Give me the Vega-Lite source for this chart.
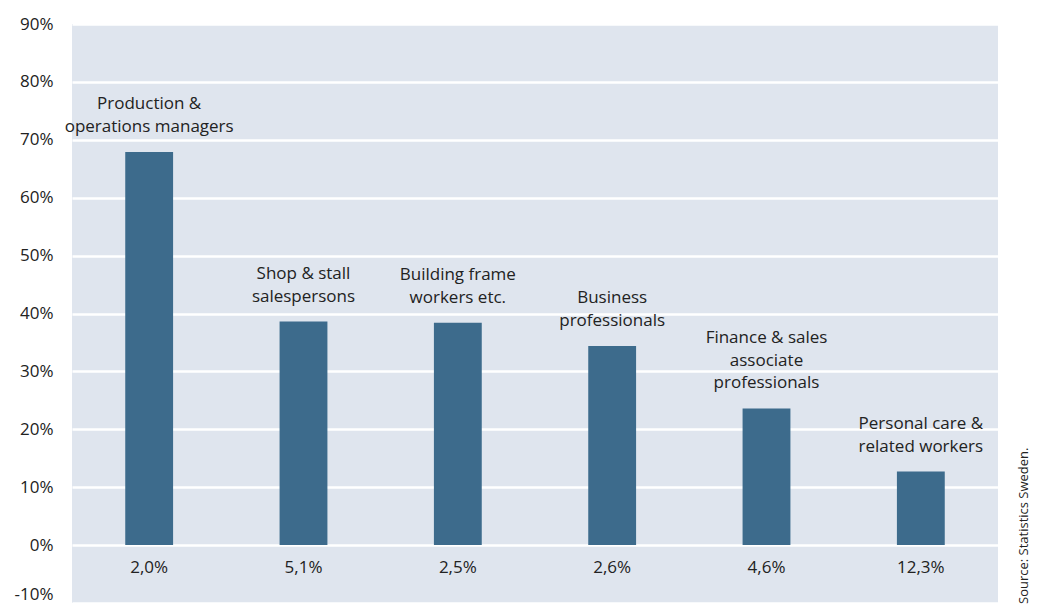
{
  "$schema": "https://vega.github.io/schema/vega-lite/v6.json",
  "autosize": "none",
  "width": 926,
  "height": 579,
  "padding": {"left": 72, "top": 24, "right": 40, "bottom": 5},
  "background": "white",
  "title": {
    "text": "Source: Statistics Sweden.",
    "orient": "right",
    "angle": -90,
    "anchor": "end",
    "align": "left",
    "frame": "group",
    "offset": 7,
    "dx": -1,
    "fontSize": 13,
    "fontWeight": "normal",
    "font": "Open Sans",
    "color": "#222222"
  },
  "config": {
    "view": {"fill": "#dfe5ee", "stroke": null},
    "locale": {"number": {"decimal": ",", "thousands": " ", "grouping": [3], "currency": ["", " kr"], "minus": "-"}}
  },
  "data": {
    "values": [
      {"occ": "Production & operations managers", "line_bottom": "operations managers", "line_middle": "Production &", "line_top": "", "share": 0.679, "rate": 0.020},
      {"occ": "Shop & stall salespersons", "line_bottom": "salespersons", "line_middle": "Shop & stall", "line_top": "", "share": 0.386, "rate": 0.051},
      {"occ": "Building frame workers etc.", "line_bottom": "workers etc.", "line_middle": "Building frame", "line_top": "", "share": 0.384, "rate": 0.025},
      {"occ": "Business professionals", "line_bottom": "professionals", "line_middle": "Business", "line_top": "", "share": 0.344, "rate": 0.026},
      {"occ": "Finance & sales associate professionals", "line_bottom": "professionals", "line_middle": "associate", "line_top": "Finance & sales", "share": 0.236, "rate": 0.046},
      {"occ": "Personal care & related workers", "line_bottom": "related workers", "line_middle": "Personal care &", "line_top": "", "share": 0.127, "rate": 0.123}
    ]
  },
  "encoding": {
    "x": {
      "field": "occ",
      "type": "nominal",
      "sort": null,
      "scale": {"paddingInner": 0.69, "paddingOuter": 0.345},
      "axis": null
    }
  },
  "layer": [
    {
      "mark": {"type": "bar", "color": "#3d6b8c"},
      "encoding": {
        "y": {
          "field": "share",
          "type": "quantitative",
          "scale": {"domain": [-0.1, 0.9], "nice": false},
          "axis": {
            "values": [-0.1, 0, 0.1, 0.2, 0.3, 0.4, 0.5, 0.6, 0.7, 0.8, 0.9],
            "format": ".0%",
            "title": null,
            "domain": false,
            "ticks": false,
            "labelPadding": 19,
            "labelFontSize": 17,
            "labelFont": "Open Sans",
            "labelColor": "#222222",
            "labelBaseline": {"condition": {"test": "datum.value < 0", "value": "bottom"}, "value": "middle"},
            "gridColor": "white",
            "gridWidth": 2.5,
            "gridOpacity": 1
          }
        }
      }
    },
    {
      "mark": {"type": "text", "baseline": "middle", "dy": -25, "fontSize": 17, "font": "Open Sans", "color": "#222222"},
      "encoding": {
        "y": {"field": "share", "type": "quantitative"},
        "text": {"field": "line_bottom"}
      }
    },
    {
      "mark": {"type": "text", "baseline": "middle", "dy": -47.5, "fontSize": 17, "font": "Open Sans", "color": "#222222"},
      "encoding": {
        "y": {"field": "share", "type": "quantitative"},
        "text": {"field": "line_middle"}
      }
    },
    {
      "mark": {"type": "text", "baseline": "middle", "dy": -70, "fontSize": 17, "font": "Open Sans", "color": "#222222"},
      "encoding": {
        "y": {"field": "share", "type": "quantitative"},
        "text": {"field": "line_top"}
      }
    },
    {
      "mark": {"type": "text", "baseline": "middle", "dy": 23, "fontSize": 17, "font": "Open Sans", "color": "#222222"},
      "encoding": {
        "y": {"datum": 0},
        "text": {"field": "rate", "type": "quantitative", "format": ".1%"}
      }
    }
  ]
}
